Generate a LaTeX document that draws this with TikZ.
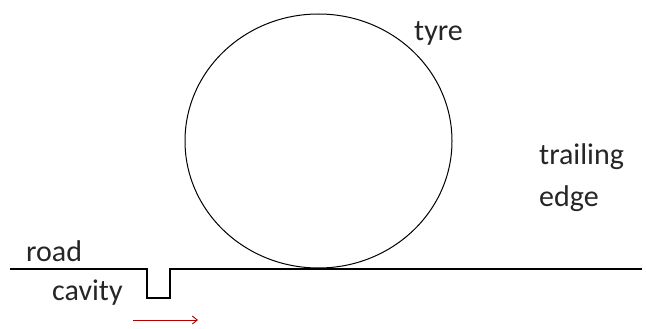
\documentclass[tikz,border=0pt]{standalone}
\usepackage{fontspec}
\setmainfont{Carlito}
\usetikzlibrary{arrows.meta}
\tikzset{
  lbl/.style={inner sep=0pt, font=\fontsize{30}{42}\selectfont, text=black!85},
  outline/.style={draw=black, line width=1pt},
}
\begin{document}
\begin{tikzpicture}[x=1pt,y=-1pt]
\useasboundingbox[fill=white] (0,0) rectangle (646,329);
\draw[outline] (318.5,141) ellipse [x radius=133.5, y radius=127];
\coordinate (r0) at (10,269);
\coordinate (r1) at (642,269);
\draw[outline, line width=1.3pt] (r0) -- (147,269) -- (147,298) -- (170,298) -- (170,269) -- (r1);
\coordinate (a0) at (133,320);
\coordinate (a1) at (198,320);
\draw[draw=red!70!black, line width=0.9pt, -{Straight Barb[length=5pt,width=8pt]}] (a0) -- (a1);
\node[lbl, anchor=west] (road) at (26,251) {road};
\node[lbl, anchor=west] (cavity) at (52,293) {cavity};
\node[lbl, anchor=west] (tyre) at (414,33) {tyre};
\node[lbl, anchor=north west, align=left] (trail) at (539,143) {trailing\\edge};
\end{tikzpicture}
\end{document}
